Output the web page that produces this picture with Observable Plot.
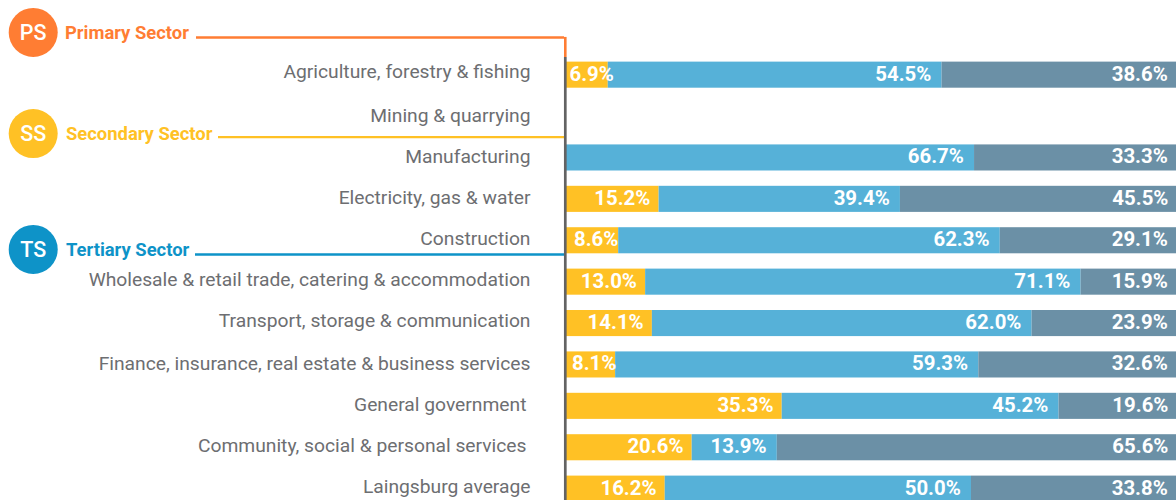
<!DOCTYPE html>
<html>
<head>
<meta charset="utf-8">
<script src="https://cdn.jsdelivr.net/npm/d3@7"></script>
<script src="https://cdn.jsdelivr.net/npm/@observablehq/plot@0.6"></script>
<style>
html,body{margin:0;padding:0;background:#fff;overflow:hidden}
svg{display:block;overflow:hidden}
</style>
</head>
<body>
<div id="chart"></div>
<script>
const categories = ["Agriculture, forestry & fishing","Mining & quarrying","Manufacturing","Electricity, gas & water","Construction","Wholesale & retail trade, catering & accommodation","Transport, storage & communication","Finance, insurance, real estate & business services","General government","Community, social & personal services","Laingsburg average"];
const seriesA = [6.9,0,0,15.2,8.6,13.0,14.1,8.1,35.3,20.6,16.2];
const seriesB = [54.5,0,66.7,39.4,62.3,71.1,62.0,59.3,45.2,13.9,50.0];
const seriesC = [38.6,0,33.3,45.5,29.1,15.9,23.9,32.6,19.6,65.6,33.8];
const seriesColors = ["#ffc125","#56b1d8","#6b90a6"];
const sectorCodes = ["PS","SS","TS"];
const sectorNames = ["Primary Sector","Secondary Sector","Tertiary Sector"];
const sectorColors = ["#ff7d33","#ffc125","#0e93c8"];

const FONT = "Roboto, sans-serif";
const XR = [565.5,1178];
const px = p => (p-XR[0])/(XR[1]-XR[0])*100;   // pixel to x-scale value, for annotations

const rows = categories.flatMap((c,i)=>{
  const v=[seriesA[i],seriesB[i],seriesC[i]]; let s=0;
  return v.map((value,k)=>{const start=s; s+=value; return {c,k,value,start,end:s};}).filter(d=>d.value>0);
});
const big = rows.filter(d=>d.value>=10);
const small = rows.filter(d=>d.value<10);
const fmt = d=>d.value.toFixed(1)+"%";

const sectors = [
  {row:categories[0], off:-37.7, cy:-42.7, lineFrom:196, labelX:64.5},
  {row:categories[1], off:20.6, cy:17, lineFrom:218, labelX:65.5},
  {row:categories[4], off:13.7, cy:8.7, lineFrom:195, labelX:65.5}
];

const sectorMarks = sectors.flatMap((s,i)=>[
  Plot.ruleY([s.row],{x1:px(s.lineFrom),x2:px(564),stroke:sectorColors[i],strokeWidth:2.4,dy:s.off}),
  Plot.dot([s.row],{x:()=>px(32.7),y:d=>d,r:24.5,fill:sectorColors[i],dy:s.cy}),
  Plot.text([sectorCodes[i]],{x:()=>px(32.7),y:()=>s.row,text:d=>d,fill:"#fff",fontSize:21.5,fontWeight:500,dy:s.cy+0.7}),
  Plot.text([sectorNames[i]],{x:()=>px(s.labelX),y:()=>s.row,text:d=>d,textAnchor:"start",fill:sectorColors[i],fontSize:18.4,fontWeight:700,dy:s.cy+0.8})
]);

// category labels sit slightly off the bar centres in the reference
const labelDy = [-3,-1,-1.5,-2,-2,-2.5,-3,-1.5,-2,-2,-2.5];
const labelEnd = [530,530,530,530,530,530,530,530,526,526,530];
const labelMarks = categories.map((c,i)=>
  Plot.text([c],{x:()=>px(labelEnd[i]),y:d=>d,text:d=>d,textAnchor:"end",fill:"#6d6e71",fontSize:19.26,dy:labelDy[i]})
);
const smallDx = [[6.9,3.5],[8.6,8],[8.1,6]];
const smallMarks = smallDx.map(([v,dx])=>
  Plot.text(small.filter(d=>d.value===v),{x:"start",y:"c",text:fmt,textAnchor:"start",dx,dy:-1,fill:"#fff",fontSize:20.4,fontWeight:700})
);

const chart = Plot.plot({
  width:1176,height:500,margin:0,
  style:{fontFamily:FONT,background:"#fff"},
  x:{domain:[0,100],range:XR,axis:null},
  y:{domain:categories,range:[46.3,517],padding:0.37,round:false,axis:null},
  marks:[
    Plot.barX(rows,{x1:"start",x2:"end",y:"c",fill:d=>seriesColors[d.k]}),
    ...sectorMarks,
    Plot.ruleX([0],{x:()=>px(564.8),y1:()=>categories[0],y2:()=>categories[0],stroke:sectorColors[0],strokeWidth:2.6,insetTop:-24.7,insetBottom:30.7}),
    Plot.ruleX([0],{x:()=>px(564.8),y1:()=>categories[0],y2:()=>categories[10],stroke:"#636363",strokeWidth:2.7,insetTop:-4.7,insetBottom:-14}),
    ...labelMarks,
    Plot.text(big.filter(d=>d.k===0),{x:"end",y:"c",text:fmt,textAnchor:"end",dx:-8.7,dy:-1,fill:"#fff",fontSize:20.4,fontWeight:700}),
    Plot.text(big.filter(d=>d.k!==0),{x:"end",y:"c",text:fmt,textAnchor:"end",dx:-10.7,dy:-1,fill:"#fff",fontSize:20.4,fontWeight:700}),
    ...smallMarks
  ]
});
document.getElementById("chart").appendChild(chart);
</script>
</body>
</html>
